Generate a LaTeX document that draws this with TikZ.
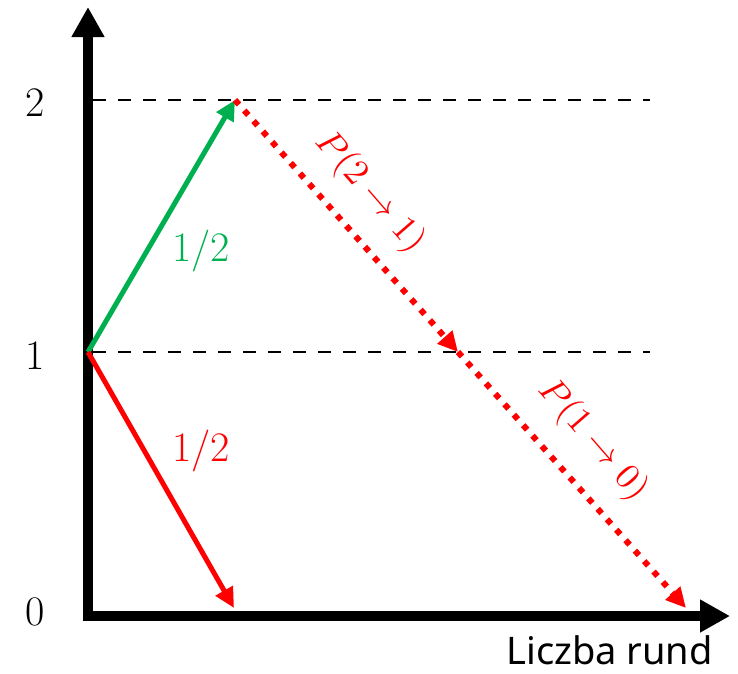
\documentclass[tikz,border=0pt]{standalone}
\usepackage{fontspec}
\newfontfamily\labfont{Noto Sans}
\usetikzlibrary{arrows.meta}
\definecolor{offgreen}{RGB}{0,176,80}
\definecolor{offred}{RGB}{255,0,0}
\begin{document}
\begin{tikzpicture}[x=1pt,y=-1pt,
  axis/.style={line width=10pt,-{Triangle[length=30pt,width=31pt]}},
  guide/.style={line width=2.5pt,dash pattern=on 13pt off 12pt},
  solidarrow/.style={line width=5pt,-{Triangle[length=20pt,width=19pt]}},
  dotarrow/.style={offred,line width=6pt,dash pattern=on 6pt off 8pt,-{Triangle[length=20pt,width=19pt]}},
  tick/.style={font=\fontsize{42}{46}\selectfont},
  prob/.style={font=\fontsize{42}{46}\selectfont},
  plabel/.style={offred,scale=3.6,rotate=-49}]
\useasboundingbox (0,0) rectangle (738,673);
\coordinate (o) at (88,616);
\coordinate (ytop) at (88,7);
\coordinate (ybot) at (88,621);
\coordinate (xleft) at (83,616);
\coordinate (xright) at (730,616);
\coordinate (s1) at (88,352);
\coordinate (s2) at (235,100);
\coordinate (s0) at (234,608);
\coordinate (m1) at (458,352);
\coordinate (e0) at (686,608);
\coordinate (d2a) at (93,100);
\coordinate (d2b) at (650,100);
\coordinate (d1a) at (93,352);
\coordinate (d1b) at (650,352);
% dashed guides
\draw[guide] (d2a) -- (d2b);
\draw[guide] (d1a) -- (d1b);
% axes
\draw[axis] (ybot) -- (ytop);
\draw[axis] (xleft) -- (xright);
% arrows
\draw[solidarrow,offgreen] (s1) -- (s2);
\draw[solidarrow,offred] (s1) -- (s0);
\draw[dotarrow] (s2) -- (m1);
\draw[dotarrow] (m1) -- (e0);
% labels
\node[tick] (l2) at (35,103) {2};
\node[tick] (l1) at (35,356) {1};
\node[tick] (l0) at (35,612) {0};
\node[prob,offgreen] (pg) at (201,251) {1/2};
\node[prob,offred] (pr) at (201,451) {1/2};
\node[plabel] (p21) at (370,192) {$P(2\rightarrow 1)$};
\node[plabel] (p10) at (593,440) {$P(1\rightarrow 0)$};
\node[font=\labfont\fontsize{38}{42}\selectfont,anchor=base east,inner sep=0pt] (xl) at (713,664) {Liczba rund};
\end{tikzpicture}
\end{document}
